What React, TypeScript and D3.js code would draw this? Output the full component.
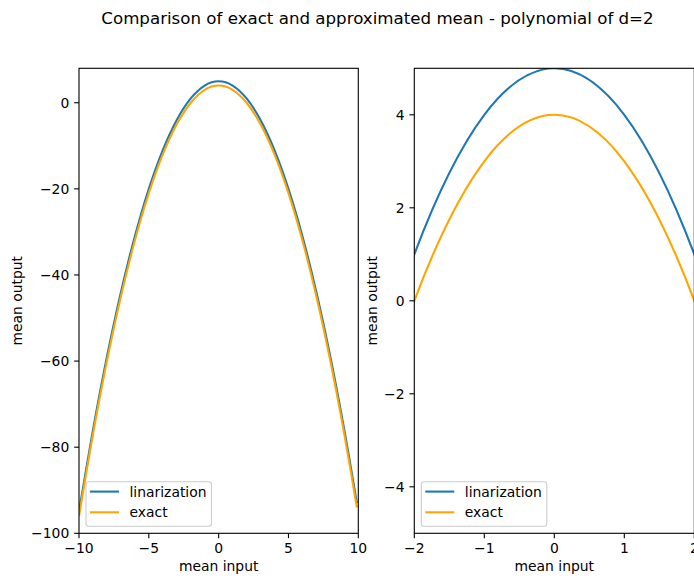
import React from "react";
import * as d3 from "d3";

// Mean input grid and the two mean-output curves (degree-2 polynomial)
const meanInput = [-10, -9, -8, -7, -6, -5, -4, -3, -2, -1, 0, 1, 2, 3, 4, 5, 6, 7, 8, 9, 9.9];
const linearization = [-95, -76, -59, -44, -31, -20, -11, -4, 1, 4, 5, 4, 1, -4, -11, -20, -31, -44, -59, -76, -93.01];
const exact = [-96, -77, -60, -45, -32, -21, -12, -5, 0, 3, 4, 3, 0, -5, -12, -21, -32, -45, -60, -77, -94.01];

const seriesNames = ["linarization", "exact"];
const seriesColors = ["#1f77b4", "#ffa500"];

const leftXTicks = [-10, -5, 0, 5, 10];
const leftYTicks = [0, -20, -40, -60, -80, -100];
const rightXTicks = [-2, -1, 0, 1, 2];
const rightYTicks = [4, 2, 0, -2, -4];

const titleText = "Comparison of exact and approximated mean - polynomial of d=2";
const xLabel = "mean input";
const yLabel = "mean output";

const W = 694;
const H = 579;
const FONT = "DejaVu Sans, Liberation Sans, sans-serif";
const FS = 13.9;
const TICK = 4.86;

const fmt = (v: number) => (v < 0 ? "\u2212" + Math.abs(v) : String(v));

type PanelProps = {
  id: string;
  left: number;
  right: number;
  top: number;
  bottom: number;
  xDomain: [number, number];
  yDomain: [number, number];
  xTicks: number[];
  yTicks: number[];
  ylabelX: number;
};

function Panel(p: PanelProps) {
  const x = d3.scaleLinear().domain(p.xDomain).range([p.left, p.right]);
  const y = d3.scaleLinear().domain(p.yDomain).range([p.bottom, p.top]);
  const pts = (ys: number[]) => meanInput.map((v, i) => [v, ys[i]] as [number, number]);
  const line = d3
    .line<[number, number]>()
    .x((d) => x(d[0]))
    .y((d) => y(d[1]))
    .curve(d3.curveCardinal.tension(0));
  const series = [linearization, exact];
  const legX = p.left + 7;
  const legBottom = p.bottom - 7;
  const legW = 125.5;
  const legH = 44.5;
  const legTop = legBottom - legH;
  return (
    <g>
      <defs>
        <clipPath id={p.id}>
          <rect x={p.left} y={p.top} width={p.right - p.left} height={p.bottom - p.top} />
        </clipPath>
      </defs>
      <g clipPath={`url(#${p.id})`}>
        {series.map((s, i) => (
          <path key={i} d={line(pts(s)) || ""} fill="none" stroke={seriesColors[i]} strokeWidth={2.08} />
        ))}
      </g>
      <rect
        x={p.left}
        y={p.top}
        width={p.right - p.left}
        height={p.bottom - p.top}
        fill="none"
        stroke="#000"
        strokeWidth={1.1}
      />
      {p.xTicks.map((t) => (
        <g key={"x" + t}>
          <line x1={x(t)} x2={x(t)} y1={p.bottom} y2={p.bottom + TICK} stroke="#000" strokeWidth={1.1} />
          <text x={x(t)} y={p.bottom + TICK + 4.86 + 10.2} textAnchor="middle" fontSize={FS} fontFamily={FONT} fill="#000">
            {fmt(t)}
          </text>
        </g>
      ))}
      {p.yTicks.map((t) => (
        <g key={"y" + t}>
          <line x1={p.left - TICK} x2={p.left} y1={y(t)} y2={y(t)} stroke="#000" strokeWidth={1.1} />
          <text
            x={p.left - TICK - 4.86}
            y={y(t)}
            dy="0.36em"
            textAnchor="end"
            fontSize={FS}
            fontFamily={FONT}
            fill="#000"
          >
            {fmt(t)}
          </text>
        </g>
      ))}
      <text x={(p.left + p.right) / 2} y={570.5} textAnchor="middle" fontSize={FS} fontFamily={FONT} fill="#000">
        {xLabel}
      </text>
      <text
        transform={`translate(${p.ylabelX},${(p.top + p.bottom) / 2}) rotate(-90)`}
        textAnchor="middle"
        dy="0.36em"
        fontSize={FS}
        fontFamily={FONT}
        fill="#000"
      >
        {yLabel}
      </text>
      <rect
        x={legX}
        y={legTop}
        width={legW}
        height={legH}
        rx={2.8}
        fill="#fff"
        fillOpacity={0.8}
        stroke="#cccccc"
        strokeWidth={1.1}
      />
      {seriesNames.map((n, i) => {
        const cy = legTop + 9.8 + i * 20.7;
        return (
          <g key={n}>
            <line x1={legX + 4} x2={legX + 33} y1={cy} y2={cy} stroke={seriesColors[i]} strokeWidth={2.08} />
            <text x={legX + 43.5} y={cy} dy="0.36em" fontSize={FS} fontFamily={FONT} fill="#000">
              {n}
            </text>
          </g>
        );
      })}
    </g>
  );
}

export default function App() {
  return (
    <svg
      width={W}
      height={H}
      viewBox={`0 0 ${W} ${H}`}
      style={{ position: "absolute", left: 0, top: 0, background: "#fff" }}
    >
      <rect x={0} y={0} width={W} height={H} fill="#fff" />
      <text x={377.5} y={23.5} textAnchor="middle" fontSize={16.67} fontFamily={FONT} fill="#000">
        {titleText}
      </text>
      <Panel
        id="clipLeft"
        left={79}
        right={358.3}
        top={68.3}
        bottom={533.3}
        xDomain={[-10, 10]}
        yDomain={[-100, 8]}
        xTicks={leftXTicks}
        yTicks={leftYTicks}
        ylabelX={17}
      />
      <Panel
        id="clipRight"
        left={414.3}
        right={694.3}
        top={68.3}
        bottom={533.3}
        xDomain={[-2, 2]}
        yDomain={[-5, 5]}
        xTicks={rightXTicks}
        yTicks={rightYTicks}
        ylabelX={372}
      />
    </svg>
  );
}
